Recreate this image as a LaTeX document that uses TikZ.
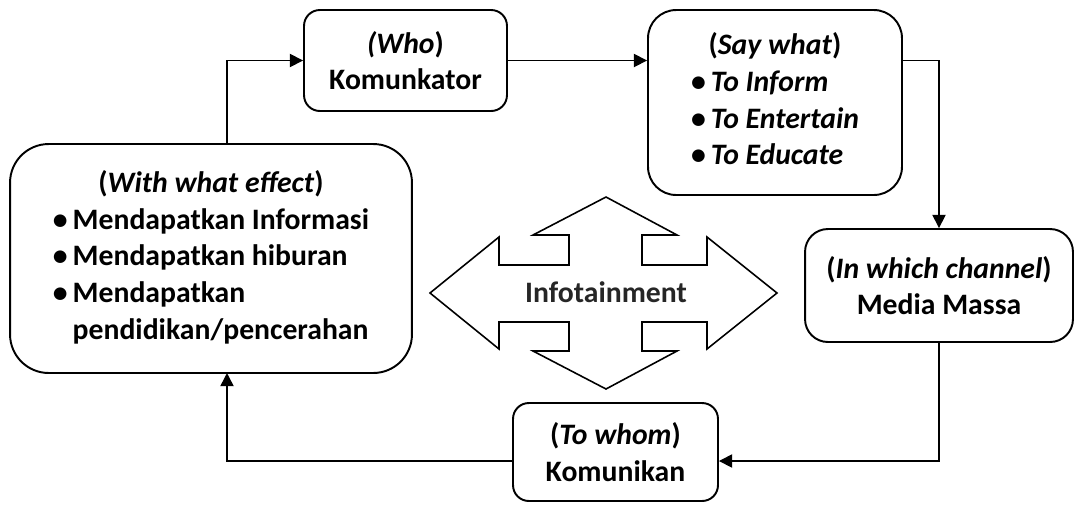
\documentclass[tikz,border=0pt]{standalone}
\usepackage{fontspec}
\setmainfont{Carlito}
\usepackage{xcolor}
\usetikzlibrary{arrows.meta, positioning, calc}

\tikzset{
    box/.style={draw, line width=1.1pt, rounded corners=#1, inner sep=0pt,
                font=\fontsize{16.9}{20.9}\selectfont\bfseries, align=center},
    arr/.style={-{Triangle[length=7.5pt,width=7.5pt]}, line width=0.9pt},
    bigarrow/.style={draw, line width=0.9pt, fill=white, line join=miter}
}

\begin{document}
\begin{tikzpicture}[x=0.02cm, y=-0.02cm]
    \useasboundingbox (0,0) rectangle (1075,505);

    % kotak-kotak
    \node[box=9pt, minimum width=4.06cm, minimum height=2.02cm] (who) at (405.5,60.5)
        {\textit{(Who})\\Komunkator};
    \node[box=16pt, minimum width=5.08cm, minimum height=3.7cm] (say) at (775,102.5)
        {\begin{tabular}{@{}l@{\,}l@{}}
            \multicolumn{2}{c}{(\textit{Say what})}\\
            \textbullet & \textit{To Inform}\\
            \textbullet & \textit{To Entertain}\\
            \textbullet & \textit{To Educate}
        \end{tabular}};
    \node[box=13pt, minimum width=5.36cm, minimum height=2.26cm] (channel) at (939,285.5)
        {(\textit{In which channel})\\Media Massa};
    \node[box=9pt, minimum width=4.1cm, minimum height=1.96cm] (whom) at (615.5,452)
        {(\textit{To whom})\\Komunikan};
    \node[box=22pt, minimum width=8.04cm, minimum height=4.58cm] (effect) at (211,258.5)
        {\begin{tabular}{@{}l@{\,}l@{}}
            \multicolumn{2}{c}{(\textit{With what effect})}\\
            \textbullet & Mendapatkan Informasi\\
            \textbullet & Mendapatkan hiburan\\
            \textbullet & Mendapatkan\\
                        & pendidikan/pencerahan
        \end{tabular}};

    % panah empat arah
    \draw[bigarrow] (606,197) -- (677,235) -- (642,235) -- (642,265) -- (707,265)
        -- (707,237) -- (777,293) -- (707,349) -- (707,322) -- (642,322) -- (642,351)
        -- (677,351) -- (606,389) -- (533,351) -- (569,351) -- (569,322) -- (499,322)
        -- (499,349) -- (430,293) -- (499,237) -- (499,265) -- (569,265) -- (569,235)
        -- (533,235) -- cycle;
    \node[font=\fontsize{16.9}{20.9}\selectfont\bfseries, text=black!85] (info) at (606,292) {Infotainment};

    % titik bantu
    \coordinate (upx) at (227,144);
    \coordinate (dnx) at (227,373);
    \coordinate (lowy) at (0,461);

    % alur
    \draw[arr] (upx) |- (who.west);
    \draw[arr] (who.east) -- (who.east -| say.west);
    \draw[arr] (who.east -| say.east) -| (channel.north);
    \draw[arr] (channel.south) |- (whom.east |- lowy);
    \draw[arr] (whom.west |- lowy) -| (dnx);
\end{tikzpicture}
\end{document}
